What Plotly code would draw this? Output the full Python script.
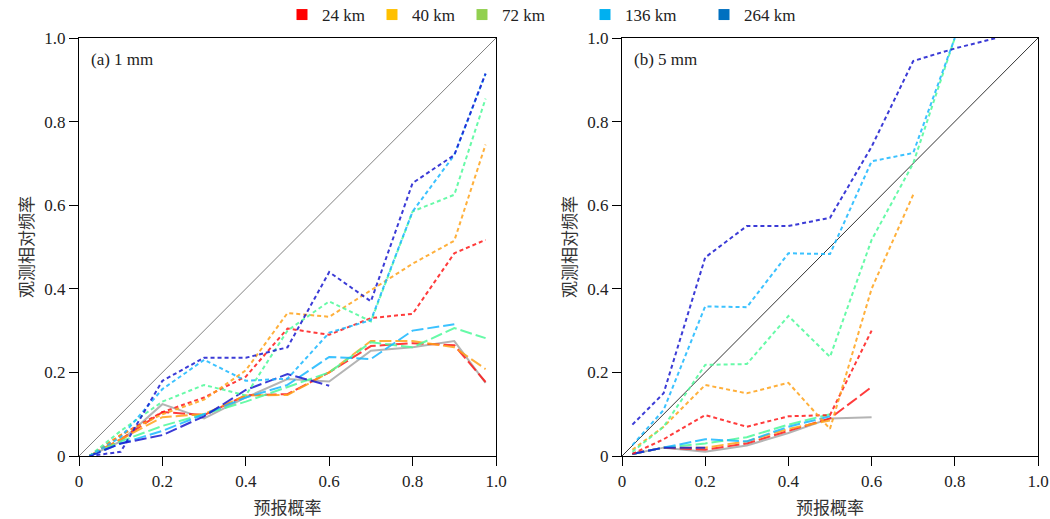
import plotly.graph_objects as go

# ---------------- data ----------------
xa = [0.025, 0.1, 0.2, 0.3, 0.4, 0.5, 0.6, 0.7, 0.8, 0.9, 0.975]
xb = [0.025, 0.1, 0.2, 0.3, 0.4, 0.5, 0.6, 0.7, 0.8, 0.9]

legend_names = ["24 km", "40 km", "72 km", "136 km", "264 km"]
legend_colors = ["#ff0000", "#ffc000", "#92d050", "#00b0f0", "#0070c0"]
line_colors = ["#ff1a1a", "#ffa31a", "#4dfa9a", "#1ab8ff", "#1a1ad0"]

# panel (a) 1 mm : dotted series
a_dot_24 = [0, 0.05, 0.105, 0.14, 0.19, 0.305, 0.29, 0.33, 0.34, 0.485, 0.517]
a_dot_40 = [0, 0.05, 0.10, 0.135, 0.205, 0.342, 0.333, 0.397, 0.46, 0.515, 0.745]
a_dot_72 = [0, 0.06, 0.13, 0.17, 0.145, 0.30, 0.37, 0.322, 0.585, 0.625, 0.855]
a_dot_136 = [0, 0.045, 0.16, 0.23, 0.18, 0.185, 0.295, 0.325, 0.585, 0.72, 0.915]
a_dot_264 = [0, 0.01, 0.18, 0.235, 0.235, 0.26, 0.44, 0.37, 0.653, 0.72, 0.915]
# panel (a) dashed series
a_dash_24 = [0, 0.04, 0.105, 0.098, 0.145, 0.148, 0.2, 0.263, 0.27, 0.265, 0.177]
a_dash_40 = [0, 0.04, 0.093, 0.10, 0.145, 0.146, 0.2, 0.275, 0.275, 0.26, 0.208]
a_dash_72 = [0, 0.035, 0.072, 0.10, 0.13, 0.165, 0.2, 0.272, 0.26, 0.306, 0.282]
a_dash_136 = [0, 0.03, 0.06, 0.10, 0.14, 0.17, 0.237, 0.232, 0.30, 0.315]
a_dash_264 = [0, 0.03, 0.05, 0.095, 0.158, 0.196, 0.168]
a_gray = [0, 0.035, 0.124, 0.09, 0.14, 0.184, 0.178, 0.252, 0.26, 0.275, 0.175]

# panel (b) 5 mm : dotted series
b_dot_24 = [0.005, 0.04, 0.098, 0.07, 0.095, 0.098, 0.30]
b_dot_40 = [0.015, 0.07, 0.17, 0.15, 0.175, 0.065, 0.40, 0.625]
b_dot_72 = [0.01, 0.07, 0.218, 0.22, 0.335, 0.237, 0.517, 0.70, 1.0]
b_dot_136 = [0.026, 0.11, 0.358, 0.356, 0.485, 0.483, 0.705, 0.725, 1.0]
b_dot_264 = [0.075, 0.15, 0.475, 0.55, 0.55, 0.57, 0.74, 0.945, 0.975, 1.0]
# panel (b) dashed series
b_dash_24 = [0.005, 0.02, 0.015, 0.03, 0.06, 0.09, 0.165]
b_dash_40 = [0.005, 0.02, 0.02, 0.035, 0.065, 0.085]
b_dash_72 = [0.005, 0.02, 0.03, 0.045, 0.075, 0.10]
b_dash_136 = [0.005, 0.02, 0.04, 0.035, 0.07, 0.095]
b_dash_264 = [0.005, 0.02, 0.02]
b_gray = [0.005, 0.02, 0.01, 0.025, 0.055, 0.09, 0.093]

tick_vals = [0, 0.2, 0.4, 0.6, 0.8, 1.0]
tick_text = ["0", "0.2", "0.4", "0.6", "0.8", "1.0"]

SERIF = "Liberation Serif"
CJK = "Noto Sans CJK SC"

fig = go.Figure()

a_dots = [a_dot_24, a_dot_40, a_dot_72, a_dot_136, a_dot_264]
a_dashes = [a_dash_24, a_dash_40, a_dash_72, a_dash_136, a_dash_264]
b_dots = [b_dot_24, b_dot_40, b_dot_72, b_dot_136, b_dot_264]
b_dashes = [b_dash_24, b_dash_40, b_dash_72, b_dash_136, b_dash_264]

for xs, gray, dots, dashes, xref, yref, diag_col in [
    (xa, a_gray, a_dots, a_dashes, "x", "y", "#808080"),
    (xb, b_gray, b_dots, b_dashes, "x2", "y2", "#333333"),
]:
    fig.add_trace(go.Scatter(x=[0, 1], y=[0, 1], mode="lines", xaxis=xref, yaxis=yref,
                             line=dict(color=diag_col, width=1), showlegend=False, hoverinfo="skip"))
    fig.add_trace(go.Scatter(x=xs[:len(gray)], y=gray, mode="lines", xaxis=xref, yaxis=yref,
                             line=dict(color="#b4b4b4", width=2), showlegend=False))
    for i in range(5):
        d = dashes[i]
        fig.add_trace(go.Scatter(x=xs[:len(d)], y=d, mode="lines", xaxis=xref, yaxis=yref,
                                 line=dict(color=line_colors[i], width=2, dash="12px,4px"),
                                 opacity=0.85, showlegend=False))
    for i in range(5):
        d = dots[i]
        fig.add_trace(go.Scatter(x=xs[:len(d)], y=d, mode="lines", xaxis=xref, yaxis=yref,
                                 line=dict(color=line_colors[i], width=2, dash="4px,3px"),
                                 opacity=0.85, showlegend=False))

# one legend per entry, to reproduce the uneven spacing of the original
legend_keys = ["legend", "legend2", "legend3", "legend4", "legend5"]
for name, col, key in zip(legend_names, legend_colors, legend_keys):
    fig.add_trace(go.Scatter(x=[None], y=[None], mode="markers", name=name,
                             marker=dict(symbol="square", size=11, color=col),
                             xaxis="x", yaxis="y", legend=key))

W, H = 1050, 519
L, R, T, B = 79, 1038, 38, 456
PW, PH = R - L, B - T

def xd(a, b):
    return [(a - L) / PW, (b - L) / PW]

axis_common = dict(range=[0, 1], tickvals=tick_vals, ticktext=tick_text, ticks="outside",
                   ticklen=9, tickwidth=1.2, tickcolor="black", showline=True, linecolor="black",
                   linewidth=1.2, mirror=True, showgrid=False, zeroline=False, automargin=False,
                   tickfont=dict(family=SERIF, size=17, color="#222"))

xt = dict(text="预报概率", font=dict(family=CJK, size=17, color="#333"), standoff=12)
yt = dict(text="观测相对频率", font=dict(family=CJK, size=17, color="#333"), standoff=6)

leg_common = dict(orientation="h", yanchor="middle", y=1 + (T - 15) / PH, xanchor="left",
                  font=dict(family=SERIF, size=17, color="#222"), itemwidth=30,
                  bgcolor="rgba(0,0,0,0)")

square_px = [301, 391, 481, 604, 723]
legends = {key: dict(x=(sx - 19 - L) / PW, **leg_common) for key, sx in zip(legend_keys, square_px)}

fig.update_layout(
    width=W, height=H, margin=dict(l=L, r=W - R, t=T, b=H - B, autoexpand=False),
    plot_bgcolor="white", paper_bgcolor="white",
    xaxis=dict(domain=xd(79, 496), anchor="y", title=xt, **axis_common),
    yaxis=dict(domain=[0, 1], anchor="x", title=yt, **axis_common),
    xaxis2=dict(domain=xd(622, 1038), anchor="y2", title=xt, **axis_common),
    yaxis2=dict(domain=[0, 1], anchor="x2", title=yt, **axis_common),
    annotations=[
        dict(text="(a) 1 mm", x=0.025, y=0.975, xref="x domain", yref="y domain", showarrow=False,
             xanchor="left", yanchor="top", font=dict(family=SERIF, size=17, color="#222")),
        dict(text="(b) 5 mm", x=0.025, y=0.975, xref="x2 domain", yref="y2 domain", showarrow=False,
             xanchor="left", yanchor="top", font=dict(family=SERIF, size=17, color="#222")),
    ],
    **legends,
)

fig.write_html("out.html", config={"displayModeBar": False},
               post_script="document.body.style.margin='0px';document.body.style.overflow='hidden';")
